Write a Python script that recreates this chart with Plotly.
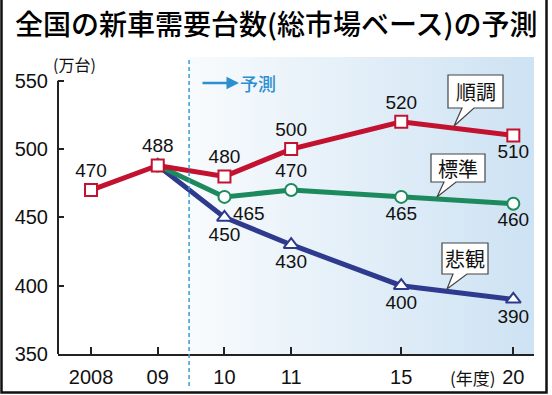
import plotly.graph_objects as go

# ---- data ----
years = ["2008", "09", "10", "11", "15", "20"]
x_pos = [0, 1, 2, 3, 4.65, 6.33]          # category positions on the axis (uneven spacing)
smooth = [470, 488, 480, 500, 520, 510]     # 順調
standard = [None, 488, 465, 470, 465, 460]  # 標準
pessim = [None, 488, 450, 430, 400, 390]    # 悲観
y_ticks = [350, 400, 450, 500, 550]

smooth_pos = ["top center"] * 5 + ["bottom center"]
standard_pos = ["top center", "top center", "bottom right", "top center", "bottom center", "bottom center"]
pessim_pos = ["top center"] + ["bottom center"] * 5

RED = "#c3122f"
GREEN = "#1c8a5c"
NAVY = "#2e3a8e"
BLUE = "#2d8fcf"
NUMFONT = "Liberation Sans Narrow, Arial Narrow, Liberation Sans, sans-serif"
JPFONT = "Noto Sans CJK JP, sans-serif"

W, H = 552, 395
L, R, T, B = 58, 534, 57, 354
XR = [-0.495, 6.64]
YR = [350, 567.4]

def px(xp):
    return (xp - L) / (R - L)

def py(yp):
    return (B - yp) / (B - T)

fig = go.Figure()

# forecast background gradient
fig.add_trace(go.Scatter(
    x=[1.47, XR[1], XR[1], 1.47, 1.47], y=[YR[0], YR[0], YR[1], YR[1], YR[0]],
    mode="lines", fill="toself", line=dict(width=0),
    fillgradient=dict(type="horizontal", colorscale=[[0, "#f8fbfd"], [1, "#cde2f3"]]),
    hoverinfo="skip", showlegend=False))

def ser(vals, color, symbol, size, positions, skip_first_label):
    xs = [x for x, v in zip(x_pos, vals) if v is not None]
    ys = [v for v in vals if v is not None]
    tp = [p for p, v in zip(positions, vals) if v is not None]
    txt = [str(v) for v in ys]
    if skip_first_label:
        txt[0] = ""
    fig.add_trace(go.Scatter(
        x=xs, y=ys, mode="lines+markers+text",
        line=dict(color=color, width=5),
        marker=dict(symbol=symbol, size=size, color="white", line=dict(color=color, width=2)),
        text=txt, textposition=tp,
        textfont=dict(family=NUMFONT, size=19, color="#111"),
        cliponaxis=False, showlegend=False))

ser(pessim, NAVY, "triangle-up", 13, pessim_pos, True)
ser(standard, GREEN, "circle", 12, standard_pos, True)
ser(smooth, RED, "square", 12, smooth_pos, False)

shapes = []
# y axis line (only up to 550)
shapes.append(dict(type="line", xref="paper", yref="y", x0=0, x1=0, y0=350, y1=550,
                   line=dict(color="#222", width=2)))
# forecast dashed divider
shapes.append(dict(type="line", xref="x", yref="paper", x0=1.47, x1=1.47, y0=py(386), y1=1,
                   line=dict(color="#3a9bd1", width=1.5, dash="4px,3px")))
# outer frame
shapes.append(dict(type="path", xref="paper", yref="paper",
                   path=f"M{px(1.5)},{py(0)} L{px(1.5)},{py(392.5)} L{px(546.5)},{py(392.5)} L{px(546.5)},{py(0)}",
                   line=dict(color="#111", width=2.5)))

def bubble(x0, x1, y0, y1, b0, b1, tx, ty, label):
    p = (f"M{px(x0)},{py(y0)} L{px(x1)},{py(y0)} L{px(x1)},{py(y1)} L{px(b1)},{py(y1)} "
         f"L{px(tx)},{py(ty)} L{px(b0)},{py(y1)} L{px(x0)},{py(y1)} Z")
    shapes.append(dict(type="path", xref="paper", yref="paper", path=p,
                       fillcolor="white", line=dict(color="#444", width=1.2), layer="above"))
    return dict(xref="paper", yref="paper", x=px((x0 + x1) / 2), y=py((y0 + y1) / 2),
                text=label, showarrow=False, font=dict(family=JPFONT, size=20, color="#111"),
                xanchor="center", yanchor="middle")

annotations = [
    bubble(448, 503, 75, 108, 462, 474, 454, 126, "順調"),
    bubble(431, 485, 154, 182, 444, 456, 437, 197, "標準"),
    bubble(442, 488, 243, 274, 453, 467, 447, 289, "悲観"),
]

annotations += [
    dict(xref="paper", yref="paper", x=px(276), y=py(23), text="全国の新車需要台数(総市場ベース)の予測",
         showarrow=False, font=dict(family=JPFONT, size=28, color="#000", weight=500),
         xanchor="center", yanchor="middle"),
    dict(xref="paper", yref="paper", x=px(74), y=py(64), text="(万台)",
         showarrow=False, font=dict(family=JPFONT, size=16, color="#111"), xanchor="center", yanchor="middle"),
    dict(xref="paper", yref="paper", x=px(473), y=py(377), text="(年度)",
         showarrow=False, font=dict(family=JPFONT, size=17, color="#111"), xanchor="center", yanchor="middle"),
    dict(xref="paper", yref="paper", x=px(258), y=py(83), text="予測",
         showarrow=False, font=dict(family=JPFONT, size=18, color=BLUE, weight=500),
         xanchor="center", yanchor="middle"),
    dict(xref="paper", yref="paper", x=px(239), y=py(83), ax=-38, ay=0, text="",
         showarrow=True, arrowhead=2, arrowsize=1, arrowwidth=2.5, arrowcolor=BLUE),
]

fig.update_layout(
    width=W, height=H, autosize=False, margin=dict(l=L, r=W - R, t=T, b=H - B, pad=0),
    paper_bgcolor="white", plot_bgcolor="white",
    shapes=shapes, annotations=annotations, showlegend=False,
    xaxis=dict(range=XR, tickvals=x_pos, ticktext=years, ticks="inside", ticklen=7, tickwidth=1.5,
               tickcolor="#222", showline=True, linecolor="#222", linewidth=2, showgrid=False,
               zeroline=False, tickfont=dict(family=NUMFONT, size=20, color="#111"),
               ticklabelstandoff=4, automargin=False, fixedrange=True),
    yaxis=dict(range=YR, tickvals=y_ticks, ticks="inside", ticklen=6, tickwidth=1.5, tickcolor="#222",
               showline=False, showgrid=False, zeroline=False,
               tickfont=dict(family=NUMFONT, size=20, color="#111"),
               ticklabelstandoff=9, automargin=False, fixedrange=True),
)

fig.write_html("out.html", config={"displayModeBar": False, "responsive": False},
               post_script="document.body.style.margin='0';document.body.style.overflow='hidden';")
